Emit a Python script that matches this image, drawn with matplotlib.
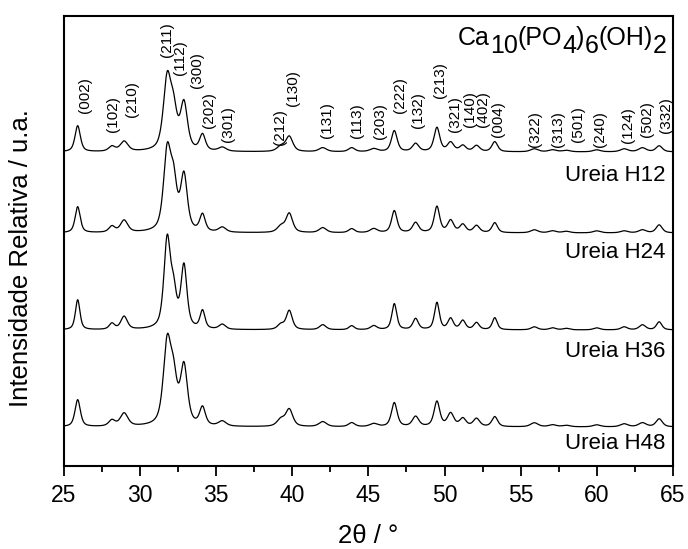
import matplotlib
matplotlib.use("Agg")
import matplotlib.pyplot as plt
import numpy as np
from matplotlib.ticker import MultipleLocator

plt.rcParams['font.family'] = ['Liberation Sans', 'DejaVu Sans']

# peak positions (2theta) and base widths (FWHM, deg)
peak_pos = [25.9, 28.15, 28.95, 31.78, 32.2, 32.88, 34.1, 35.4, 39.25, 39.8,
            42.0, 43.9, 45.35, 46.7, 48.1, 49.5, 50.4, 51.2, 52.1, 53.3,
            55.9, 57.1, 58.0, 60.0, 61.8, 63.0, 64.1]
peak_fwhm = [0.42, 0.5, 0.6, 0.6, 0.55, 0.55, 0.45, 0.6, 0.6, 0.55,
             0.6, 0.5, 0.6, 0.45, 0.5, 0.45, 0.5, 0.5, 0.5, 0.45,
             0.6, 0.6, 0.6, 0.6, 0.6, 0.6, 0.5]

# peak heights for each sample (top to bottom)
samples = ['Ureia H12', 'Ureia H24', 'Ureia H36', 'Ureia H48']
h12 = [26, 5, 10, 70, 34, 46, 16, 4, 5, 15, 4, 4, 3, 21, 8, 24, 9, 6, 6, 10, 3, 2, 1.5, 2, 3, 4, 6]
h24 = [26, 6, 12, 78, 44, 55, 17, 5, 6, 19, 5, 4, 4, 22, 10, 26, 12, 8, 7, 10, 3, 2, 1.5, 2, 2, 3, 8]
h36 = [30, 6, 13, 88, 32, 62, 18, 5, 5, 19, 5, 4, 4, 26, 11, 27, 11, 9, 7, 12, 3, 2, 1.5, 2, 3, 5, 8]
h48 = [27, 6, 13, 80, 40, 58, 18, 5, 7, 17, 5, 4, 3, 24, 10, 25, 13, 8, 8, 10, 4, 2, 1.5, 2, 3, 4, 8]
heights = [h12, h24, h36, h48]
width_scale = [1.0, 0.95, 0.85, 1.0]
offsets = [314, 233, 136, 39]
label_y = [290, 213, 114, 22]

# Miller indices above the top pattern
hkl = ['(002)', '(102)', '(210)', '(211)', '(112)', '(300)', '(202)', '(301)', '(212)', '(130)',
       '(131)', '(113)', '(203)', '(222)', '(132)', '(213)', '(321)', '(140)', '(402)', '(004)',
       '(322)', '(313)', '(501)', '(240)', '(124)', '(502)', '(332)']
hkl_x = [26.38, 28.24, 29.45, 31.78, 32.62, 33.72, 34.54, 35.79, 39.19, 40.06,
         42.25, 44.22, 45.76, 47.07, 48.27, 49.70, 50.68, 51.67, 52.50, 53.49,
         55.94, 57.47, 58.78, 60.20, 62.06, 63.27, 64.54]
hkl_y = [353, 334, 349, 409, 391, 378, 338, 324, 321, 360,
         328, 328, 327, 353, 338, 368, 334, 339, 339, 329,
         319, 319, 324, 319, 323, 329, 333]

x = np.arange(25, 65.001, 0.02)


def pattern(h, ws):
    y = np.zeros_like(x)
    for p, w, a in zip(peak_pos, peak_fwhm, h):
        hw = w * ws / 2
        d = (x - p) / hw
        y += a * (0.6 / (1 + d**2) + 0.4 * np.exp(-np.log(2) * d**2))
    return y


fig = plt.figure(figsize=(6.88, 5.49), dpi=100)
ax = fig.add_axes([0.093, 0.1512, 0.885, 0.8197])

for name, h, ws, off, ly in zip(samples, heights, width_scale, offsets, label_y):
    ax.plot(x, pattern(h, ws) + off, color='black', lw=0.9)
    ax.text(64.5, ly, name, ha='right', va='center', fontsize=16)

for t, px, py in zip(hkl, hkl_x, hkl_y):
    ax.text(px, py, t, rotation=90, ha='center', va='bottom', fontsize=11)

# formula with full size subscripts
parts = ['Ca', '10', '(PO', '4', ')', '6', '(OH)', '2']
prev = ax.text(0.647, 0.9356, parts[0], transform=ax.transAxes, fontsize=18,
               ha='left', va='baseline')
for i, s in enumerate(parts[1:], start=1):
    yb = 0.9356 - 0.0185 if i % 2 == 1 else 0.9356
    prev = ax.annotate(s, xy=(1, yb), xycoords=(prev, 'axes fraction'),
                       ha='left', va='baseline', fontsize=18)

ax.set_xlim(25, 65)
ax.set_ylim(0, 450)
ax.xaxis.set_major_locator(MultipleLocator(5))
ax.xaxis.set_minor_locator(MultipleLocator(2.5))
ax.tick_params(axis='x', which='major', direction='out', length=7, width=1.3,
               labelsize=16.5, top=False, pad=6)
ax.tick_params(axis='x', which='minor', direction='out', length=4.5, width=1.3, top=False)
ax.set_yticks([])
for s in ax.spines.values():
    s.set_linewidth(1.5)

ax.set_xlabel('2θ / °', fontsize=18.5)
ax.set_ylabel('Intensidade Relativa / u.a.', fontsize=18.5)
ax.yaxis.set_label_coords(-0.051, 0.462)
ax.xaxis.set_label_coords(0.5, -0.128)

fig.savefig('out.png', dpi=100)
